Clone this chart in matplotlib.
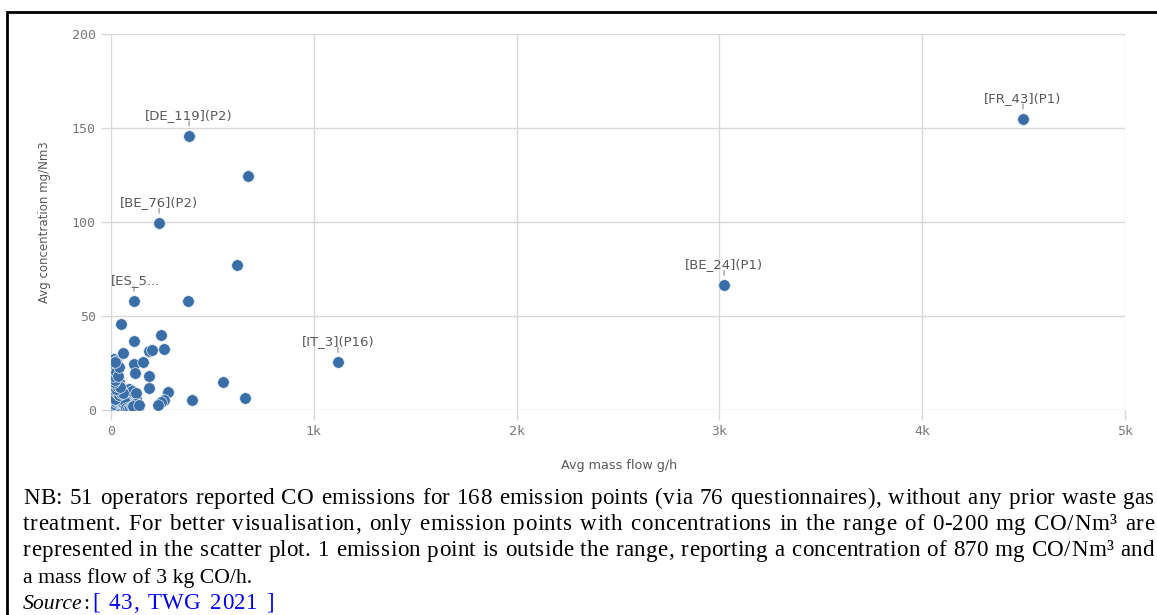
import matplotlib
matplotlib.use("Agg")
import matplotlib.pyplot as plt
from matplotlib.patches import Rectangle

# ---------------- data ----------------
# labelled emission points
label_names = ["[DE_119](P2)", "[BE_76](P2)", "[ES_5...", "[IT_3](P16)", "[BE_24](P1)", "[FR_43](P1)"]
label_x = [385, 237, 113, 1119, 3023, 4497]
label_y = [146, 99.5, 58, 25.5, 66.5, 155]

# other scattered emission points (mass flow g/h, concentration mg/Nm3)
mid_x = [676, 621, 380, 49, 112, 245, 263, 187, 200, 59, 112, 156, 38, 20, 120, 186, 186,
         280, 552, 401, 659, 263, 247, 232, 110, 140]
mid_y = [124.5, 77, 58, 45.7, 36.7, 39.7, 32.3, 31.5, 32, 30.5, 24.3, 25.5, 23, 25.7, 19.9,
         18.3, 11.9, 9.7, 14.7, 5.3, 6.4, 5.3, 4.4, 2.5, 2.1, 2.5]

# dense cluster near the origin
cluster_x = [2, 8, 15, 25, 5, 3, 12, 30, 18, 2, 6, 10, 3, 15, 22, 8, 2, 28, 35, 12, 20, 5, 40,
             30, 45, 50, 55, 60, 65, 70, 75, 80, 85, 90, 95, 100, 105, 110, 118, 125, 128, 3,
             10, 16, 24, 32, 38, 44, 52, 58, 64, 72, 78, 86, 92, 98, 104, 112, 120, 1, 6, 12,
             18, 26, 34, 46, 56, 66, 0, 14, 30, 50, 70, 88, 108, 40, 25, 4, 9, 20, 36, 62,
             82, 96, 115, 1, 7, 14, 22, 44, 58, 74, 90, 102, 124,
             0, 4, 9, 13, 17, 21, 27, 33, 39, 43, 48, 53, 57, 63, 68, 0, 5, 11, 19, 29, 37,
             47, 54, 61, 0, 3, 8, 16, 23, 31, 42, 0, 6, 13, 21, 0, 4, 10, 17, 26, 35, 76,
             83, 94, 106, 116, 131]
cluster_y = [27, 26, 27, 26, 24, 21, 22, 24, 19, 18, 16, 14, 13, 12, 14, 11, 10, 11, 12, 9, 8,
             7, 9, 7, 6, 8, 7, 5, 8, 6, 4, 7, 5, 8, 6, 4, 7, 5, 8, 6, 3, 5, 4, 6, 3, 4, 2, 3,
             2, 4, 2, 3, 1, 2, 3, 1, 2, 1, 2, 2, 1, 2, 1, 1, 1, 1, 1, 1, 0.5, 0.5, 0.5, 0.5,
             0.5, 0.5, 0.5, 15, 17, 20, 23, 21, 10, 10, 9, 9, 9, 6, 9, 5, 10, 12, 11, 10, 11,
             10, 9,
             3, 2, 3, 4, 3, 5, 4, 5, 4, 5, 4, 5, 3, 3, 4, 7, 8, 7, 6, 9, 8, 9, 10, 9, 12, 11,
             13, 12, 11, 13, 12, 16, 17, 15, 16, 20, 19, 18, 22, 20, 18, 1, 0.5, 1, 2, 3, 1]

x_ticks = [0, 1000, 2000, 3000, 4000, 5000]
x_tick_labels = ["0", "1k", "2k", "3k", "4k", "5k"]
y_ticks = [0, 50, 100, 150, 200]
y_tick_labels = ["0", "50", "100", "150", "200"]

x_title = "Avg mass flow g/h"
y_title = "Avg concentration mg/Nm3"

note_lines = [
    "NB: 51 operators reported CO emissions for 168 emission points (via 76 questionnaires), without any prior waste gas",
    "treatment. For better visualisation, only emission points with concentrations in the range of 0-200 mg CO/Nm\u00b3 are",
    "represented in the scatter plot. 1 emission point is outside the range, reporting a concentration of 870 mg CO/Nm\u00b3 and",
    "a mass flow of 3 kg CO/h.",
]
source_label = "Source"
source_ref = "[ 43, TWG 2021 ]"

# ---------------- figure ----------------
W, H = 1157, 615
fig = plt.figure(figsize=(W / 100, H / 100), dpi=100)
fig.patch.set_facecolor("white")

ax = fig.add_axes([111 / W, 1 - 410 / H, (1125 - 111) / W, (410 - 34) / H])
ax.set_xlim(0, 5000)
ax.set_ylim(0, 200)

dot = "#3a6ea8"
grid_c = "#d9d9d9"
txt_c = "#595959"

all_x = cluster_x + mid_x + label_x
all_y = cluster_y + mid_y + label_y
ax.scatter(all_x, all_y, s=70, color=dot, edgecolors="#e8eef6", linewidths=0.5,
           zorder=3, clip_on=True)

for name, x, y in zip(label_names, label_x, label_y):
    if name.startswith("[ES"):
        ax.annotate(name, xy=(0, y), xytext=(0, 10), textcoords="offset points",
                    ha="left", va="bottom", fontsize=9.5, color=txt_c, family="DejaVu Sans")
    else:
        ax.annotate(name, xy=(x, y), xytext=(0, 10), textcoords="offset points",
                    ha="center", va="bottom", fontsize=9.5, color=txt_c, family="DejaVu Sans")
    # small leader tick between label and point
    ax.annotate("", xy=(x, y), xycoords="data", xytext=(0, 10.5),
                textcoords="offset points",
                arrowprops=dict(arrowstyle="-", color="#888888", lw=0.8,
                                shrinkA=0, shrinkB=7))

ax.set_xticks(x_ticks)
ax.set_xticklabels(x_tick_labels)
ax.set_yticks(y_ticks)
ax.set_yticklabels(y_tick_labels)
ax.grid(True, color=grid_c, lw=1)
ax.set_axisbelow(True)
for s in ax.spines.values():
    s.set_visible(False)
ax.tick_params(axis="both", length=7, width=1, color=grid_c, labelcolor="#7a7a7a",
               labelsize=9.5, pad=4)
for lab in ax.get_xticklabels() + ax.get_yticklabels():
    lab.set_family("DejaVu Sans Mono")

fig.text(619 / W, 1 - 466 / H, x_title, ha="center", va="center", fontsize=9.2,
         color=txt_c, family="DejaVu Sans")
fig.text(45 / W, 1 - 222 / H, y_title, ha="center", va="center", rotation=90,
         fontsize=8.5, color=txt_c, family="DejaVu Sans")

# border
fig.patches.append(Rectangle((7 / W, -0.1), 1.2, (1 - 12 / H) + 0.1, transform=fig.transFigure,
                             fill=False, edgecolor="black", lw=2, zorder=10))

# ---------------- footnote (justified) ----------------
renderer = fig.canvas.get_renderer()
serif = "Liberation Serif"
fs_small = 15.7
fs_just = 16.6
left_px, right_px = 23, 1154
baselines = [504, 530, 556.5, 583, 609]

_cache = {}


def width_px(s, fs, **kw):
    key = (s, fs, tuple(sorted(kw.items())))
    if key in _cache:
        return _cache[key]
    t = fig.text(0, 0, s, fontsize=fs, family=serif, **kw)
    w = t.get_window_extent(renderer=renderer).width
    t.remove()
    _cache[key] = w
    return w


def char_w(c, fs, **kw):
    if c == " ":
        return width_px("a a", fs, **kw) - width_px("aa", fs, **kw)
    return width_px(c, fs, **kw)


def spread(text, y, x0, x1, fs, space_weight=4.0, **kw):
    """Place text character by character so that it fills x0..x1;
    word spaces take a larger share of the extra room than letters."""
    widths = [char_w(c, fs, **kw) for c in text]
    natural = sum(widths)
    weights = [space_weight if c == " " else 1.0 for c in text[:-1]]
    unit = (x1 - x0 - natural) / max(sum(weights), 1e-6)
    xpos = x0
    for k, (c, w) in enumerate(zip(text, widths)):
        if c != " ":
            fig.text(xpos / W, y, c, fontsize=fs, family=serif, va="baseline", **kw)
        if k < len(weights):
            xpos += w + unit * weights[k]


for i, line in enumerate(note_lines):
    y = 1 - baselines[i] / H
    if i < 3:
        spread(line, y, left_px, right_px, fs_just, color="black")
    else:
        fig.text(left_px / W, y, line, fontsize=fs_small, family=serif, va="baseline",
                 color="black")

y = 1 - baselines[4] / H
xpos = left_px
fig.text(xpos / W, y, source_label, fontsize=fs_small, family=serif, style="italic",
         va="baseline")
xpos += width_px(source_label, fs_small, style="italic") + 1
fig.text(xpos / W, y, ":", fontsize=fs_small, family=serif, va="baseline")
spread(source_ref, y, 92, 274, fs_just, color="#0000ee")

fig.savefig("out.png", dpi=100)
